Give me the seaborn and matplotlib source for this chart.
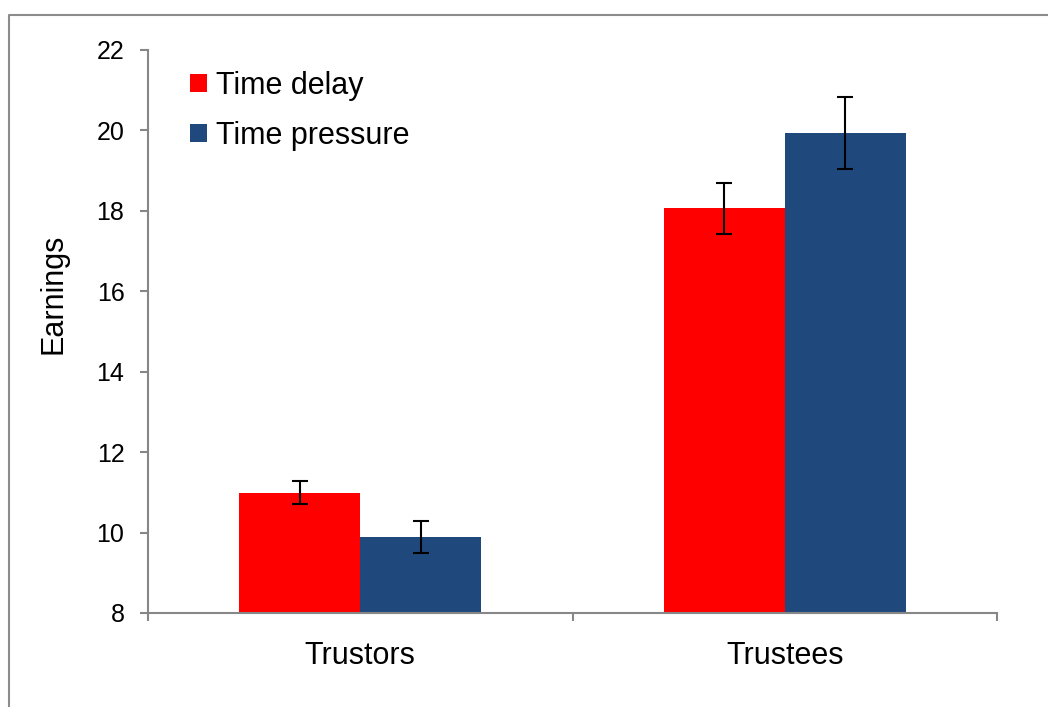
import matplotlib
matplotlib.use("Agg")
import matplotlib.pyplot as plt
import seaborn as sns
import pandas as pd
from matplotlib.patches import Patch
from matplotlib.lines import Line2D

groups = ["Trustors", "Trustees"]
conditions = ["Time delay", "Time pressure"]
delay_values = [10.99, 18.06]
pressure_values = [9.88, 19.93]
delay_errors = [0.28, 0.63]
pressure_errors = [0.40, 0.90]
yticks = [8, 10, 12, 14, 16, 18, 20, 22]
colors = ["#FF0000", "#1F497D"]

df = pd.DataFrame({
    "group": groups * 2,
    "condition": [conditions[0]] * 2 + [conditions[1]] * 2,
    "value": delay_values + pressure_values,
    "err": delay_errors + pressure_errors,
})

sns.set_style("white")
plt.rcParams["font.family"] = ["Liberation Sans", "DejaVu Sans"]
plt.rcParams["text.color"] = "black"
plt.rcParams["axes.labelcolor"] = "black"
plt.rcParams["xtick.labelcolor"] = "black"
plt.rcParams["ytick.labelcolor"] = "black"

fig = plt.figure(figsize=(10.48, 7.07), dpi=100)
ax = fig.add_axes([148 / 1048, 1 - 613 / 707, (997 - 148) / 1048, (613 - 50) / 707])

sns.barplot(data=df, x="group", y="value", hue="condition", order=groups,
            hue_order=conditions, palette=colors, width=0.57, errorbar=None,
            saturation=1, linewidth=0, ax=ax, legend=False)

# error bars at bar centres
for cont, cond in zip(ax.containers, conditions):
    sub = df[df["condition"] == cond].set_index("group").loc[groups]
    xs = [p.get_x() + p.get_width() / 2 for p in cont.patches]
    ax.errorbar(xs, sub["value"].values, yerr=sub["err"].values, fmt="none",
                ecolor="black", elinewidth=1.5, capsize=6, capthick=1.5, zorder=5)

ax.set_ylim(8, 22)
ax.set_yticks(yticks)
ax.set_xlim(-0.5, 1.5)
ax.set_xlabel("")
ax.set_ylabel("Earnings", fontsize=22, color="black")
ax.yaxis.set_label_coords(-0.094, 0.567)

for s in ["top", "right"]:
    ax.spines[s].set_visible(False)
for s in ["left", "bottom"]:
    ax.spines[s].set_color("#878787")
    ax.spines[s].set_linewidth(1.5)

ax.tick_params(axis="y", which="major", direction="out", length=6, width=1.5,
               color="#878787", labelsize=18, pad=11, left=True, labelcolor="black")
ax.tick_params(axis="x", which="major", length=0, labelsize=22, pad=20,
               labelcolor="black")
ax.set_xticks([-0.5, 0.5, 1.5], minor=True)
ax.tick_params(axis="x", which="minor", direction="out", length=6, width=1.5,
               color="#878787", bottom=True)

handles = [Patch(facecolor=c, edgecolor="none") for c in colors]
leg = ax.legend(handles, conditions, loc="upper left", bbox_to_anchor=(0.035, 0.985),
                frameon=False, fontsize=22, handlelength=0.55, handleheight=0.55,
                handletextpad=0.3, labelspacing=0.65, borderaxespad=0)
for t in leg.get_texts():
    t.set_color("black")

# outer chart-area border (left and top visible)
fig.add_artist(Line2D([9 / 1048, 9 / 1048, 1.0], [0.0, 1 - 15 / 707, 1 - 15 / 707],
                      transform=fig.transFigure, color="#8c8c8c", linewidth=1.5))

fig.savefig("out.png", dpi=100)
